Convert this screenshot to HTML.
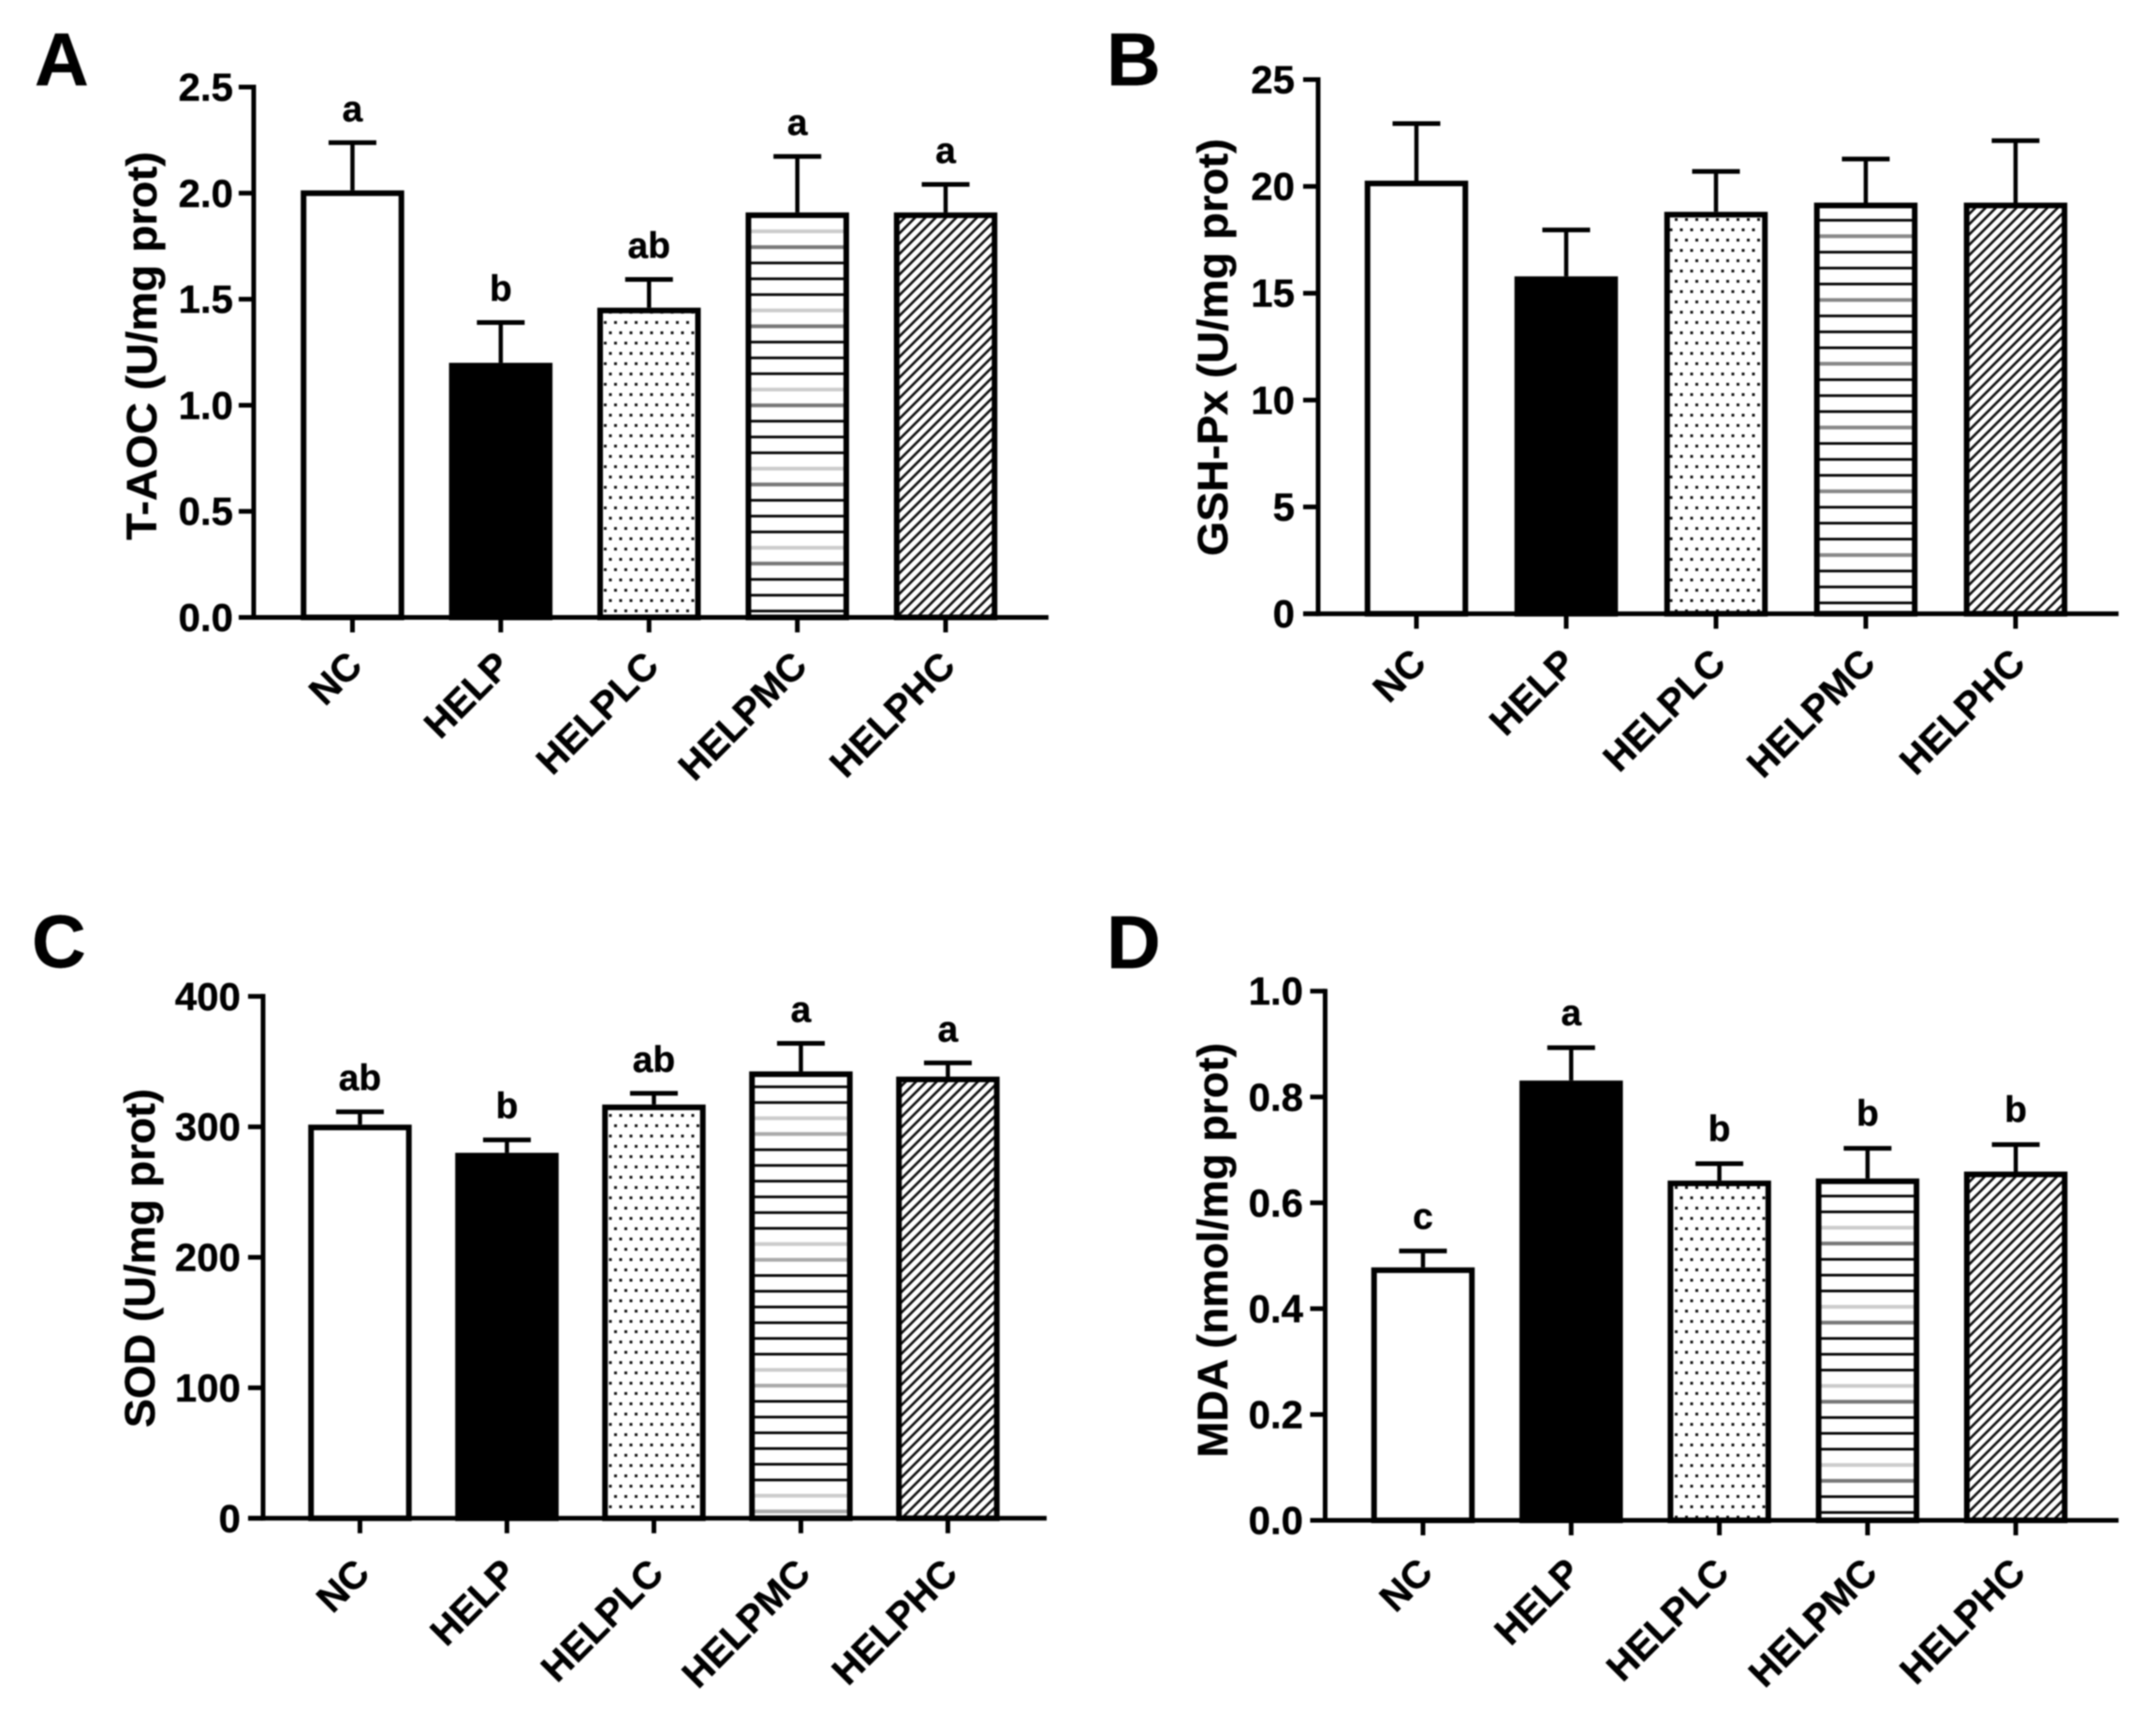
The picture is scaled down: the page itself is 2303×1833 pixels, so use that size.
<!DOCTYPE html>
<html lang="en">
<head>
<meta charset="utf-8">
<title>Antioxidant indices bar charts</title>
<style>
html,body{margin:0;padding:0;background:#fff;}
svg{display:block;filter:blur(0.7px);}
text{font-family:"Liberation Sans",Arial,sans-serif;font-weight:bold;fill:#000;stroke:#000;stroke-width:0.4px;}
</style>
</head>
<body>
<svg id="figure" xmlns="http://www.w3.org/2000/svg" width="2303" height="1833" viewBox="0 0 2303 1833">
<rect width="2303" height="1833" fill="#fff"/>
<defs id="defs"></defs>
</svg>
<script>
// ---- data ----
const categories = ["NC", "HELP", "HELPLC", "HELPMC", "HELPHC"];

const taocValues = [2.013, 1.2, 1.46, 1.909, 1.909];
const taocErrors = [0.225, 0.19, 0.133, 0.264, 0.132];
const taocLetters = ["a", "b", "ab", "a", "a"];
const taocTicks = ["0.0", "0.5", "1.0", "1.5", "2.0", "2.5"];

const gshValues = [20.27, 15.79, 18.81, 19.24, 19.24];
const gshErrors = [2.67, 2.17, 1.89, 2.04, 2.9];
const gshLetters = ["", "", "", "", ""];
const gshTicks = ["0", "5", "10", "15", "20", "25"];

const sodValues = [301.7, 280.1, 317.1, 342.5, 338.5];
const sodErrors = [9.8, 9.9, 8.6, 21.5, 10.5];
const sodLetters = ["ab", "b", "ab", "a", "a"];
const sodTicks = ["0", "100", "200", "300", "400"];

const mdaValues = [0.478, 0.831, 0.642, 0.646, 0.659];
const mdaErrors = [0.031, 0.062, 0.032, 0.057, 0.051];
const mdaLetters = ["c", "a", "b", "b", "b"];
const mdaTicks = ["0.0", "0.2", "0.4", "0.6", "0.8", "1.0"];

// ---- layout ----
const panels = [
  {id:"a", letter:"A", lx:37, ly:91, title:"T-AOC (U/mg prot)", tx:167, ty:369.5, tlen:415,
   values:taocValues, errors:taocErrors, letters:taocLetters, ticks:taocTicks,
   axisX:271, top:93, bottom:659.5, right:1120, first:376.5, step:158.4, labelRight:249, xlabOff:54, lineOff:6.8, letterGap:23,
   linePeriod:16.9, lineShades:["#000","#000","#000","#777","#ccc"]},
  {id:"b", letter:"B", lx:1182, ly:91, title:"GSH-Px (U/mg prot)", tx:1311, ty:371, tlen:446,
   values:gshValues, errors:gshErrors, letters:gshLetters, ticks:gshTicks,
   axisX:1408, top:85, bottom:655.6, right:2263, first:1513, step:160, labelRight:1383, xlabOff:55, lineOff:11.6, letterGap:22,
   linePeriod:17.03, lineShades:["#000","#000","#000","#888"]},
  {id:"c", letter:"C", lx:34, ly:1033, title:"SOD (U/mg prot)", tx:165, ty:1344, tlen:362,
   values:sodValues, errors:sodErrors, letters:sodLetters, ticks:sodTicks,
   axisX:281, top:1064.3, bottom:1621.8, right:1118, first:384.5, step:157, labelRight:257, xlabOff:61, lineOff:7.3, letterGap:23,
   linePeriod:16.8, lineShades:["#aaa","#ccc","#000","#000","#000","#000","#000","#000"]},
  {id:"d", letter:"D", lx:1182, ly:1034, title:"MDA (nmol/mg prot)", tx:1311, ty:1335.5, tlen:443,
   values:mdaValues, errors:mdaErrors, letters:mdaLetters, ticks:mdaTicks,
   axisX:1415.5, top:1058.7, bottom:1624, right:2263, first:1520, step:158.3, labelRight:1392, xlabOff:58, lineOff:8.4, letterGap:24,
   linePeriod:16.9, lineShades:["#000","#000","#777","#ccc","#000"]}
];

const NS = "http://www.w3.org/2000/svg";
const svg = document.getElementById("figure");
const defs = document.getElementById("defs");

function mk(parent, tag, attrs, txt){
  const el = document.createElementNS(NS, tag);
  for(const k in attrs){ el.setAttribute(k, attrs[k]); }
  if(txt !== undefined){ el.textContent = txt; }
  parent.appendChild(el);
  return el;
}

function makePatterns(p){
  // dots
  const d = mk(defs, "pattern", {id:"dots-"+p.id, width:11, height:22, patternUnits:"userSpaceOnUse"});
  mk(d, "rect", {width:11, height:22, fill:"#fff"});
  mk(d, "rect", {x:1.5, y:2, width:3, height:3, fill:"#111"});
  mk(d, "rect", {x:7, y:13, width:3, height:3, fill:"#111"});
  // horizontal lines: repeat with greyed lines, counted upward from the bar base
  const n = p.lineShades.length;
  const period = p.linePeriod * n;
  const baseLine = p.bottom - p.lineOff;
  const h = mk(defs, "pattern", {id:"lines-"+p.id, width:20, height:period, patternUnits:"userSpaceOnUse",
    patternTransform:"translate(0 "+(baseLine - period + p.linePeriod/2)+")"});
  mk(h, "rect", {width:20, height:period, fill:"#fff"});
  p.lineShades.forEach((shade, i) => {
    const isBlack = shade === "#000";
    const th = isBlack ? 2.8 : 4;
    const y = period - p.linePeriod/2 - i * p.linePeriod;
    mk(h, "rect", {x:0, y:y-th/2, width:20, height:th, fill:shade});
  });
  // diagonal hatch
  const k = mk(defs, "pattern", {id:"hatch-"+p.id, width:11, height:11, patternUnits:"userSpaceOnUse"});
  mk(k, "rect", {width:11, height:11, fill:"#fff"});
  mk(k, "path", {d:"M-2,2 L2,-2 M-1,12 L12,-1 M9,13 L13,9", stroke:"#111", "stroke-width":2.7, fill:"none"});
}

function drawPanel(p){
  makePatterns(p);
  const g = mk(svg, "g", {});
  
  

  const maxV = parseFloat(p.ticks[p.ticks.length-1]);
  const yScale = v => p.bottom - (v / maxV) * (p.bottom - p.top);
  const xScale = i => p.first + i * p.step;
  const barW = 110.5, sw = 6;
  const fills = ["#fff", "#000", "url(#dots-"+p.id+")", "url(#lines-"+p.id+")", "url(#hatch-"+p.id+")"];

  const label = mk(g, "text", {x:p.lx, y:p.ly, "font-size":80}, p.letter);
  
  

  categories.forEach((c, i) => {
    const cx = xScale(i);
    const yTop = yScale(p.values[i]);
    const yErr = yScale(p.values[i] + p.errors[i]);

    const stem = mk(g, "line", {x1:cx, x2:cx, y1:yErr, y2:yTop, stroke:"#000", "stroke-width":4.5});
    
    

    const cap = mk(g, "line", {x1:cx-25.5, x2:cx+25.5, y1:yErr, y2:yErr, stroke:"#000", "stroke-width":5});
    
    

    const bar = mk(g, "rect", {x:cx-barW/2+sw/2, y:yTop+sw/2, width:barW-sw, height:p.bottom-yTop-sw/2,
      fill:fills[i], stroke:"#000", "stroke-width":sw});
    
    

    if(p.letters[i]){
      const sig = mk(g, "text", {x:cx, y:yErr-p.letterGap, "font-size":39, "text-anchor":"middle"}, p.letters[i]);
      
      
    }

    const tick = mk(g, "line", {x1:cx, x2:cx, y1:p.bottom, y2:p.bottom+16, stroke:"#000", "stroke-width":5});
    
    

    const px = cx + 12.5, py = p.bottom + p.xlabOff;
    const xl = mk(g, "text", {x:px, y:py, "font-size":41, "text-anchor":"end",
      transform:"rotate(-45 "+px+" "+py+")"}, c);
    
    
  });

  const yAxis = mk(g, "line", {x1:p.axisX, x2:p.axisX, y1:p.top-2.5, y2:p.bottom+2.5, stroke:"#000", "stroke-width":5});
  
  

  const xAxis = mk(g, "line", {x1:p.axisX-16, x2:p.right, y1:p.bottom, y2:p.bottom, stroke:"#000", "stroke-width":5});
  
  

  p.ticks.forEach(t => {
    const y = yScale(parseFloat(t));
    const tk = mk(g, "line", {x1:p.axisX-16, x2:p.axisX, y1:y, y2:y, stroke:"#000", "stroke-width":5});
    
    

    const tl = mk(g, "text", {x:p.labelRight, y:y+14.5, "font-size":42, "text-anchor":"end"}, t);
    
    
  });

  const title = mk(g, "text", {x:p.tx, y:p.ty, "font-size":45, "text-anchor":"middle",
    textLength:p.tlen, lengthAdjust:"spacingAndGlyphs",
    transform:"rotate(-90 "+p.tx+" "+p.ty+")"}, p.title);
  
  
}

panels.forEach(drawPanel);
</script>
</body>
</html>
